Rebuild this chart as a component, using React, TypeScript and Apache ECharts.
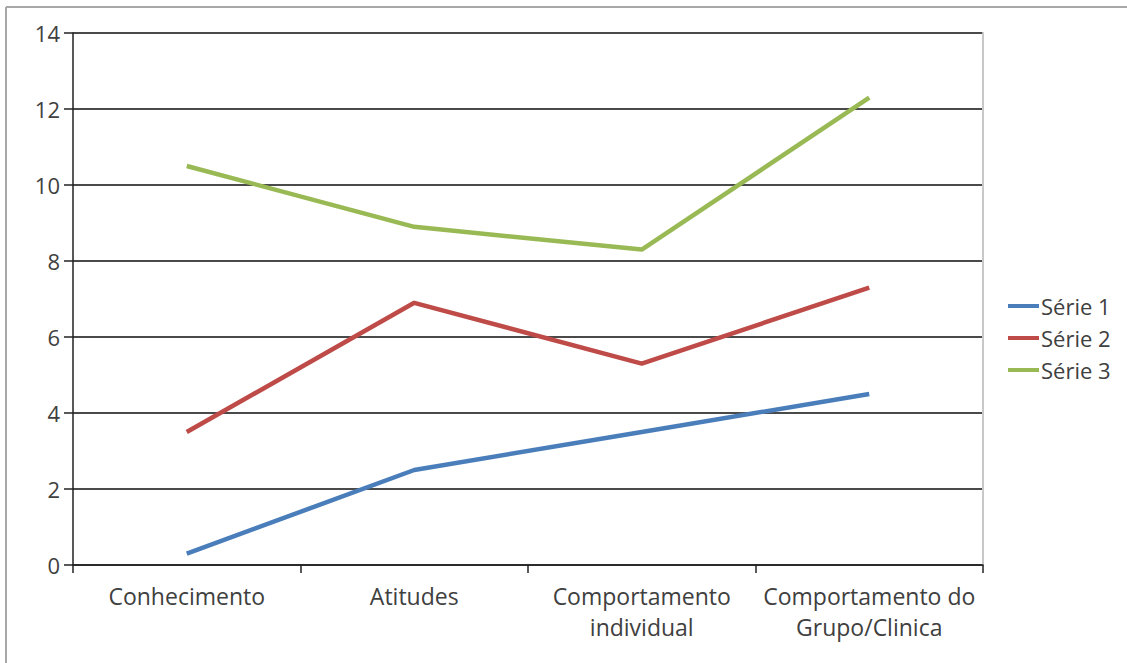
import React, { useEffect, useRef } from "react";
import * as echarts from "echarts";

const categories = ["Conhecimento", "Atitudes", "Comportamento\nindividual", "Comportamento do\nGrupo/Clinica"];
const serie1 = [0.3, 2.5, 3.5, 4.5];
const serie2 = [3.5, 6.9, 5.3, 7.3];
const serie3 = [10.5, 8.9, 8.3, 12.3];
const seriesNames = ["Série 1", "Série 2", "Série 3"];
const colors = ["#4A7EBB", "#BE4B48", "#98B954"];

export default function App() {
  const ref = useRef<HTMLDivElement>(null);
  useEffect(() => {
    const chart = echarts.init(ref.current!, null, { renderer: "svg" });
    const font = "'Open Sans', 'Liberation Sans', sans-serif";
    const data = [serie1, serie2, serie3];
    chart.setOption({
      animation: false,
      backgroundColor: "#ffffff",
      textStyle: { fontFamily: font },
      grid: { left: 73, top: 33, right: 144, bottom: 98 },
      legend: {
        orient: "vertical",
        left: 1003,
        top: 290,
        itemWidth: 31,
        itemHeight: 4,
        itemGap: 10,
        icon: "rect",
        data: seriesNames,
        textStyle: { fontFamily: font, fontSize: 22, lineHeight: 22, color: "#404040", padding: [0, 0, 0, -3] },
      },
      graphic: [
        { type: "line", shape: { x1: 6, y1: 7, x2: 1127, y2: 7 }, style: { stroke: "#a8a8a8", lineWidth: 2 } },
        { type: "line", shape: { x1: 6, y1: 7, x2: 6, y2: 663 }, style: { stroke: "#a8a8a8", lineWidth: 2 } },
      ],
      xAxis: {
        type: "category",
        data: categories,
        boundaryGap: true,
        axisLine: { lineStyle: { color: "#222", width: 1.5 } },
        axisTick: { show: true, length: 8, inside: false, lineStyle: { color: "#222", width: 1.5 } },
        axisLabel: {
          fontFamily: font,
          fontSize: 23,
          color: "#404040",
          margin: 15,
          lineHeight: 31,
          interval: 0,
        },
      },
      yAxis: [
        {
          type: "value",
          min: 0,
          max: 14,
          interval: 2,
          axisLine: { show: true, lineStyle: { color: "#222", width: 1.5 } },
          axisTick: { show: true, length: 9, lineStyle: { color: "#222", width: 1.5 } },
          axisLabel: { fontFamily: font, fontSize: 22, color: "#404040", margin: 13 },
          splitLine: { show: true, lineStyle: { color: "#4a4a4a", width: 2 } },
        },
        {
          type: "value",
          position: "right",
          min: 0,
          max: 14,
          interval: 2,
          axisLine: { show: true, lineStyle: { color: "#c8c8c8", width: 2 } },
          axisTick: { show: false },
          axisLabel: { show: false },
          splitLine: { show: false },
        },
      ],
      series: seriesNames.map((name, i) => ({
        name,
        type: "line",
        data: data[i],
        symbol: "none",
        color: colors[i],
        lineStyle: { width: 4.5, color: colors[i] },
        z: 3,
      })),
    });
    return () => chart.dispose();
  }, []);
  return (
    <div
      ref={ref}
      style={{ position: "absolute", left: 0, top: 0, width: 1127, height: 663 }}
    />
  );
}
